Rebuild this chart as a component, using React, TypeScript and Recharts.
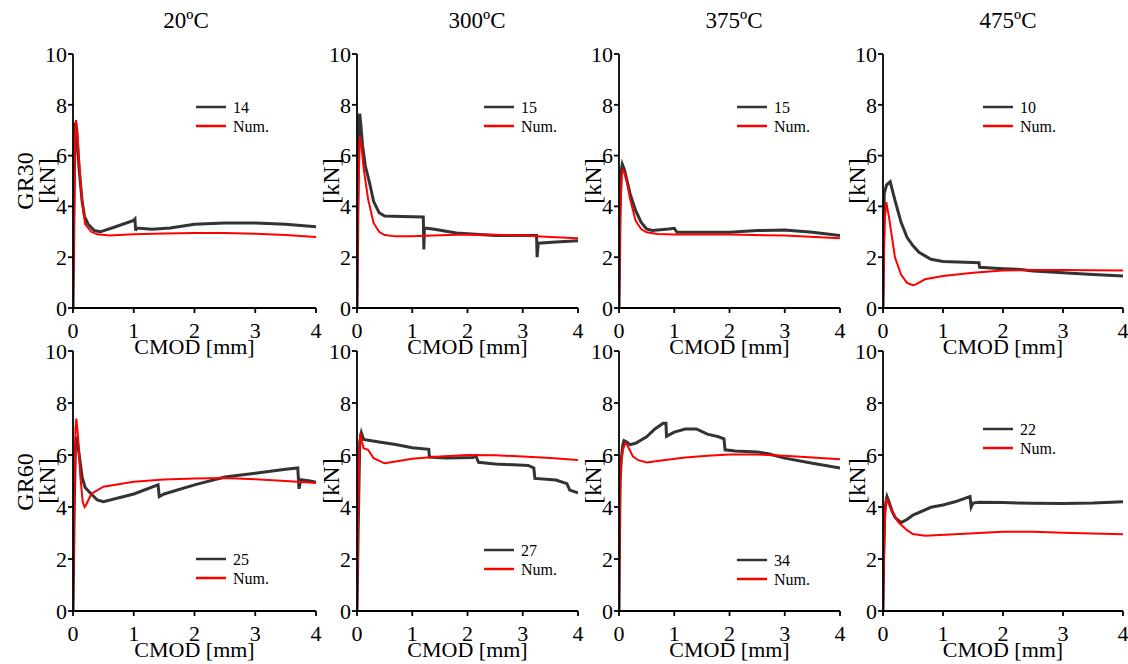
import React from "react";
import { LineChart, Line, XAxis, YAxis, Legend } from "recharts";

// values: CMOD [mm] vs load [kN]
const temps = ["20ºC", "300ºC", "375ºC", "475ºC"];
const mixes = ["GR30", "GR60"];
const specimens = ["14", "15", "15", "10", "25", "27", "34", "22"];
const xTicks = [0, 1, 2, 3, 4];
const yTicks = [0, 2, 4, 6, 8, 10];

const gr30_20_test = [[0, 0], [0.02, 5], [0.04, 7.3], [0.06, 7.0], [0.1, 5.5], [0.15, 4.2], [0.19, 3.6], [0.25, 3.3], [0.35, 3.05], [0.45, 3.0], [0.7, 3.2], [1.0, 3.45], [1.02, 3.5], [1.03, 3.05], [1.05, 3.15], [1.3, 3.1], [1.6, 3.15], [2.0, 3.3], [2.5, 3.35], [3.0, 3.35], [3.5, 3.3], [4.0, 3.2]];
const gr30_20_num = [[0, 0], [0.02, 4], [0.04, 7.0], [0.05, 7.4], [0.07, 7.0], [0.1, 5.8], [0.15, 4.2], [0.2, 3.3], [0.3, 3.0], [0.4, 2.9], [0.6, 2.85], [1, 2.9], [1.5, 2.93], [2, 2.95], [2.5, 2.95], [3, 2.92], [3.5, 2.87], [4, 2.8]];

const gr30_300_test = [[0, 0], [0.02, 5], [0.04, 7.5], [0.05, 7.65], [0.07, 7.2], [0.1, 6.4], [0.15, 5.6], [0.23, 4.9], [0.3, 4.2], [0.4, 3.75], [0.5, 3.62], [0.8, 3.6], [1.2, 3.58], [1.21, 2.3], [1.22, 3.15], [1.4, 3.1], [1.8, 2.95], [2.5, 2.85], [3.25, 2.85], [3.26, 2.0], [3.28, 2.55], [3.6, 2.6], [4, 2.65]];
const gr30_300_num = [[0, 0], [0.02, 4], [0.05, 6.75], [0.08, 6.4], [0.12, 5.5], [0.2, 4.3], [0.3, 3.35], [0.4, 3.0], [0.5, 2.87], [0.7, 2.82], [1, 2.82], [1.5, 2.86], [2, 2.89], [2.5, 2.88], [3, 2.85], [3.5, 2.8], [4, 2.75]];

const gr30_375_test = [[0, 0], [0.02, 4], [0.04, 5.4], [0.06, 5.66], [0.1, 5.43], [0.2, 4.5], [0.3, 3.84], [0.4, 3.38], [0.5, 3.11], [0.6, 3.05], [0.9, 3.11], [1.0, 3.14], [1.05, 2.98], [1.5, 2.98], [2.0, 2.98], [2.5, 3.05], [3.0, 3.07], [3.5, 2.98], [4.0, 2.85]];
const gr30_375_num = [[0, 0], [0.02, 3.5], [0.05, 5.3], [0.07, 5.43], [0.1, 5.3], [0.15, 4.9], [0.2, 4.3], [0.3, 3.44], [0.4, 3.11], [0.5, 2.98], [0.7, 2.91], [1, 2.89], [2, 2.89], [3, 2.85], [4, 2.75]];

const gr30_475_test = [[0, 0], [0.01, 2.5], [0.02, 4.5], [0.06, 4.85], [0.12, 4.97], [0.2, 4.24], [0.3, 3.38], [0.4, 2.78], [0.5, 2.45], [0.6, 2.19], [0.8, 1.92], [1.0, 1.83], [1.5, 1.79], [1.6, 1.78], [1.61, 1.6], [2.0, 1.55], [2.3, 1.52], [2.5, 1.46], [3.0, 1.39], [3.5, 1.32], [4.0, 1.26]];
const gr30_475_num = [[0, 0], [0.01, 1.5], [0.03, 3.5], [0.055, 4.17], [0.1, 3.58], [0.2, 1.99], [0.3, 1.32], [0.4, 0.99], [0.5, 0.9], [0.55, 0.93], [0.7, 1.13], [1.0, 1.26], [1.5, 1.39], [2.0, 1.48], [2.5, 1.5], [3.0, 1.5], [4.0, 1.48]];

const gr60_20_test = [[0, 0], [0.02, 4], [0.04, 6.3], [0.055, 6.7], [0.08, 6.4], [0.15, 5.15], [0.2, 4.75], [0.3, 4.5], [0.4, 4.27], [0.5, 4.2], [1, 4.5], [1.4, 4.85], [1.42, 4.4], [1.5, 4.5], [2, 4.85], [2.5, 5.15], [3, 5.3], [3.5, 5.45], [3.7, 5.5], [3.72, 4.7], [3.75, 5.05], [3.9, 5.0], [4, 4.95]];
const gr60_20_num = [[0, 0], [0.02, 4], [0.04, 7], [0.055, 7.4], [0.08, 6.8], [0.12, 5.2], [0.16, 4.2], [0.19, 4.0], [0.22, 4.1], [0.3, 4.5], [0.5, 4.78], [1, 4.97], [1.5, 5.06], [2, 5.1], [2.5, 5.12], [3, 5.07], [3.5, 5.0], [4, 4.92]];

const gr60_300_test = [[0, 0], [0.02, 3], [0.05, 6.5], [0.08, 6.85], [0.12, 6.6], [0.4, 6.5], [0.7, 6.4], [1.0, 6.28], [1.3, 6.22], [1.31, 5.92], [1.6, 5.88], [2.1, 5.9], [2.15, 5.97], [2.2, 5.72], [2.5, 5.65], [3.1, 5.6], [3.2, 5.5], [3.22, 5.1], [3.6, 5.04], [3.8, 4.9], [3.85, 4.65], [4, 4.55]];
const gr60_300_num = [[0, 0], [0.02, 3.5], [0.04, 6.0], [0.06, 6.84], [0.09, 6.5], [0.12, 6.26], [0.2, 6.2], [0.3, 5.88], [0.5, 5.68], [0.7, 5.75], [1.0, 5.86], [1.5, 5.94], [2.0, 6.0], [2.5, 5.99], [3.0, 5.94], [3.5, 5.88], [4.0, 5.81]];

const gr60_375_test = [[0, 0], [0.01, 3], [0.02, 5.0], [0.04, 5.8], [0.07, 6.4], [0.09, 6.55], [0.14, 6.5], [0.2, 6.4], [0.3, 6.45], [0.5, 6.7], [0.65, 7.0], [0.8, 7.22], [0.85, 7.22], [0.86, 6.72], [1.0, 6.88], [1.2, 7.0], [1.4, 7.0], [1.6, 6.8], [1.8, 6.7], [1.9, 6.62], [1.92, 6.2], [2.1, 6.15], [2.5, 6.12], [2.7, 6.05], [3.0, 5.88], [3.5, 5.68], [4.0, 5.5]];
const gr60_375_num = [[0, 0], [0.01, 2.5], [0.02, 4.5], [0.03, 5.5], [0.05, 5.9], [0.07, 6.2], [0.1, 6.4], [0.13, 6.45], [0.17, 6.3], [0.25, 5.95], [0.35, 5.8], [0.5, 5.71], [0.8, 5.8], [1.2, 5.9], [1.6, 5.97], [2.0, 6.02], [2.5, 6.02], [3.0, 5.97], [3.5, 5.9], [4.0, 5.84]];

const gr60_475_test = [[0, 0], [0.01, 2], [0.03, 3.8], [0.05, 4.2], [0.067, 4.4], [0.1, 4.2], [0.15, 3.85], [0.2, 3.6], [0.3, 3.4], [0.4, 3.52], [0.5, 3.69], [0.8, 3.99], [1.0, 4.08], [1.2, 4.2], [1.45, 4.4], [1.47, 4.0], [1.5, 4.15], [1.6, 4.18], [2.0, 4.17], [2.5, 4.14], [3.0, 4.13], [3.5, 4.15], [4.0, 4.2]];
const gr60_475_num = [[0, 0], [0.01, 1.5], [0.03, 3.5], [0.05, 4.3], [0.08, 4.2], [0.15, 3.85], [0.25, 3.43], [0.4, 3.11], [0.5, 2.96], [0.7, 2.89], [1.2, 2.95], [2.0, 3.05], [2.5, 3.05], [3.0, 3.01], [4.0, 2.95]];

const tests = [gr30_20_test, gr30_300_test, gr30_375_test, gr30_475_test, gr60_20_test, gr60_300_test, gr60_375_test, gr60_475_test];
const nums = [gr30_20_num, gr30_300_num, gr30_375_num, gr30_475_num, gr60_20_num, gr60_300_num, gr60_375_num, gr60_475_num];

// plot-area placement on the page
const cols = [{ l: 73, r: 316 }, { l: 357, r: 578 }, { l: 619, r: 840 }, { l: 883, r: 1123 }];
const rows = [{ t: 54, b: 308 }, { t: 351, b: 611 }];
const legendAt = [[196, 107], [484, 107], [737, 107], [983, 107], [196, 559], [484, 550], [737, 560], [983, 429]];
const titleX = [186, 477, 734, 1008];

const SERIF = "'Liberation Serif', 'Times New Roman', serif";
const BLACK = "#333333";
const RED = "#ff0000";
const Y_W = 60;
const X_H = 52;
const M_TOP = 20;
const M_RIGHT = 12;

const toPts = (a: number[][]) => a.map(([x, y]) => ({ x, y }));

const LegendBox = ({ payload }: any) => (
  <div style={{ fontFamily: SERIF, fontSize: 16, color: "#000" }}>
    {(payload || []).map((p: any) => (
      <div key={p.value} style={{ display: "flex", alignItems: "center", height: 19 }}>
        <svg width={30} height={4}>
          <line x1={0} x2={30} y1={2} y2={2} stroke={p.color} strokeWidth={2.5} />
        </svg>
        <span style={{ marginLeft: 7, lineHeight: "19px" }}>{p.value}</span>
      </div>
    ))}
  </div>
);

const Panel = ({ i }: { i: number }) => {
  const c = cols[i % 4];
  const r = rows[Math.floor(i / 4)];
  const left = c.l - Y_W;
  const top = r.t - M_TOP;
  const width = c.r - c.l + Y_W + M_RIGHT;
  const height = r.b - r.t + M_TOP + X_H;
  const [lx, ly] = legendAt[i];
  return (
    <div style={{ position: "absolute", left, top, width, height }}>
      <LineChart width={width} height={height} margin={{ top: M_TOP, right: M_RIGHT, bottom: 0, left: 0 }}>
        <XAxis
          dataKey="x"
          type="number"
          domain={[0, 4]}
          ticks={xTicks}
          interval={0}
          allowDataOverflow
          height={X_H}
          tickSize={5}
          tickMargin={9}
          stroke="#000"
          strokeWidth={1.8}
          tick={{ fill: "#000", fontSize: 22, fontFamily: SERIF }}
          label={{ value: "CMOD [mm]", position: "insideBottom", offset: 6, fill: "#000", fontSize: 22, fontFamily: SERIF }}
        />
        <YAxis
          type="number"
          domain={[0, 10]}
          ticks={yTicks}
          interval={0}
          allowDataOverflow
          width={Y_W}
          tickSize={5}
          tickMargin={1}
          stroke="#000"
          strokeWidth={1.8}
          tick={{ fill: "#000", fontSize: 22, fontFamily: SERIF }}
          label={{
            value: "[kN]",
            angle: -90,
            position: "insideLeft",
            offset: 33.5,
            fill: "#000",
            fontSize: 24,
            fontFamily: SERIF,
            style: { textAnchor: "middle" },
          }}
        />
        <Legend
          layout="horizontal"
          verticalAlign="middle"
          align="center"
          content={<LegendBox />}
          wrapperStyle={{ left: lx - left, top: ly - 9.5 - top, width: 120, height: 38 }}
        />
        <Line
          data={toPts(tests[i])}
          dataKey="y"
          name={specimens[i]}
          type="linear"
          stroke={BLACK}
          strokeWidth={3}
          dot={false}
          isAnimationActive={false}
        />
        <Line
          data={toPts(nums[i])}
          dataKey="y"
          name="Num."
          type="linear"
          stroke={RED}
          strokeWidth={2}
          dot={false}
          isAnimationActive={false}
        />
      </LineChart>
    </div>
  );
};

export default function App() {
  return (
    <div style={{ position: "absolute", left: 0, top: 0, width: 1128, height: 664, background: "#fff" }}>
      {[0, 1, 2, 3, 4, 5, 6, 7].map((i) => (
        <Panel key={i} i={i} />
      ))}
      <svg width={1128} height={664} style={{ position: "absolute", left: 0, top: 0, pointerEvents: "none" }}>
        {temps.map((t, k) => (
          <text key={t} x={titleX[k]} y={28} textAnchor="middle" fontSize={23} fontFamily={SERIF} fill="#000">
            {t}
          </text>
        ))}
        {mixes.map((m, k) => {
          const cy = k === 0 ? 181 : 482;
          return (
            <text key={m} x={33} y={cy} transform={`rotate(-90, 33, ${cy})`} textAnchor="middle" fontSize={24} fontFamily={SERIF} fill="#000">
              {m}
            </text>
          );
        })}
      </svg>
    </div>
  );
}
